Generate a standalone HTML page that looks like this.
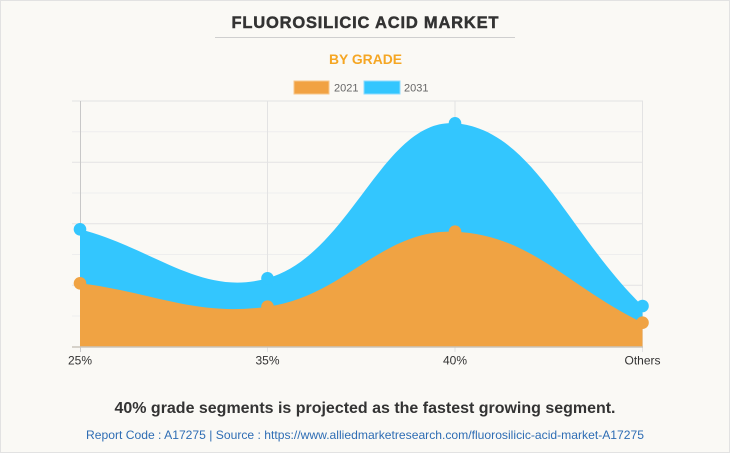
<!DOCTYPE html>
<html><head><meta charset="utf-8"><style>
html,body{margin:0;padding:0;}
body{width:730px;height:453px;overflow:hidden;background:#faf9f5;}
svg{display:block;}
</style></head><body>
<svg width="730" height="453" viewBox="0 0 730 453" xmlns="http://www.w3.org/2000/svg" font-family="Liberation Sans, Arial, sans-serif">
<rect x="0.5" y="0.5" width="729" height="452" fill="#faf9f5" stroke="#e2e2e2" stroke-width="1"/>
<text x="365" y="28" text-anchor="middle" font-size="16.5" font-weight="bold" fill="#333" stroke="#333" stroke-width="0.45" textLength="267" lengthAdjust="spacing">FLUOROSILICIC ACID MARKET</text>
<line x1="215" y1="37.5" x2="515" y2="37.5" stroke="#cfcfcf" stroke-width="1"/>
<text x="365.5" y="64" text-anchor="middle" font-size="14" font-weight="bold" fill="#f5a623" textLength="73" lengthAdjust="spacingAndGlyphs">BY GRADE</text>
<rect x="294" y="81" width="35" height="13" fill="#f1a243" stroke="#f8c88c" stroke-width="1"/>
<text x="334" y="91.5" font-size="11" fill="#666">2021</text>
<rect x="364" y="81" width="36" height="13" fill="#33c6fe" stroke="#8fdcff" stroke-width="1"/>
<text x="404" y="91.5" font-size="11" fill="#666">2031</text>
<g stroke-width="1">
<line x1="72" y1="101" x2="643" y2="101" stroke="#e3e3e3"/>
<line x1="72" y1="131.7" x2="643" y2="131.7" stroke="#eeeeee"/>
<line x1="72" y1="162.3" x2="643" y2="162.3" stroke="#e3e3e3"/>
<line x1="72" y1="193" x2="643" y2="193" stroke="#eeeeee"/>
<line x1="72" y1="223.8" x2="643" y2="223.8" stroke="#e3e3e3"/>
<line x1="72" y1="254.5" x2="643" y2="254.5" stroke="#eeeeee"/>
<line x1="72" y1="285.2" x2="643" y2="285.2" stroke="#e3e3e3"/>
<line x1="72" y1="316" x2="643" y2="316" stroke="#eeeeee"/>
<line x1="80.5" y1="101" x2="80.5" y2="352" stroke="#c8c8c8"/>
<line x1="267.5" y1="101" x2="267.5" y2="352" stroke="#e3e3e3"/>
<line x1="455" y1="101" x2="455" y2="352" stroke="#e3e3e3"/>
<line x1="642.5" y1="101" x2="642.5" y2="352" stroke="#e3e3e3"/>
</g>
<path d="M80,229.3 C155,248.9 201,297.1 267.5,278.3 C351,254.7 382.7,118 455,123.3 C532.7,129 567.5,232.9 642.5,306 L642.5,346.5 L80,346.5 Z" fill="#33c6fe"/>
<path d="M80,283.3 C155,292.7 195,316.7 267.5,306.7 C345,296 381.2,228.6 455,231.7 C531.2,235 567.5,286.3 642.5,322.7 L642.5,346.5 L80,346.5 Z" fill="#f0a343"/>
<line x1="72" y1="347" x2="643" y2="347" stroke="#c9c5bb" stroke-width="1.5"/>
<g fill="#33c6fe">
<circle cx="80" cy="229.3" r="6.3"/>
<circle cx="267.5" cy="278.3" r="6.3"/>
<circle cx="455" cy="123.3" r="6.3"/>
<circle cx="642.5" cy="306" r="6.3"/>
</g>
<g fill="#f0a343">
<circle cx="80" cy="283.3" r="6.3"/>
<circle cx="267.5" cy="306.7" r="6.3"/>
<circle cx="455" cy="231.7" r="6.3"/>
<circle cx="642.5" cy="322.7" r="6.3"/>
</g>
<g font-size="12" fill="#333" text-anchor="middle">
<text x="80" y="364.5">25%</text>
<text x="267.5" y="364.5">35%</text>
<text x="455" y="364.5">40%</text>
<text x="642.5" y="364.5">Others</text>
</g>
<text x="365" y="413" text-anchor="middle" font-size="16" font-weight="bold" fill="#333" textLength="501" lengthAdjust="spacingAndGlyphs">40% grade segments is projected as the fastest growing segment.</text>
<text x="365" y="439" text-anchor="middle" font-size="12" fill="#2e6db4" textLength="558" lengthAdjust="spacingAndGlyphs">Report Code : A17275  |  Source : https://www.alliedmarketresearch.com/fluorosilicic-acid-market-A17275</text>
</svg>
</body></html>
